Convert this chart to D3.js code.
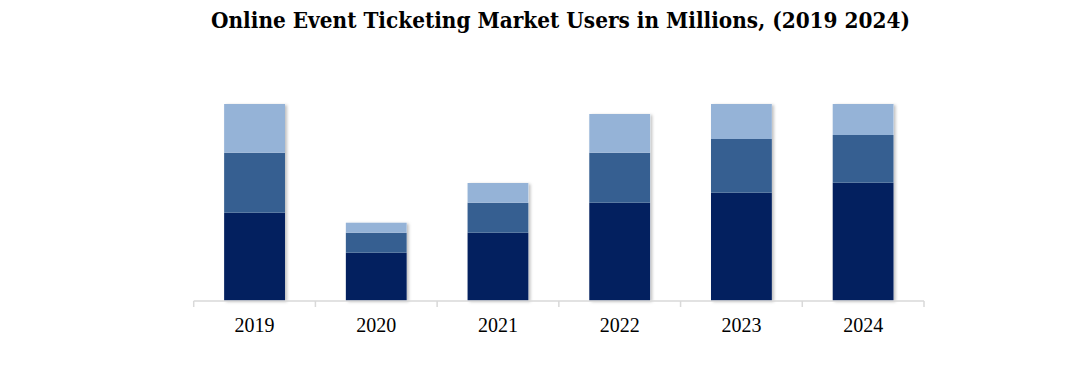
<!DOCTYPE html>
<html>
<head>
<meta charset="utf-8">
<script src="https://cdn.jsdelivr.net/npm/d3@7"></script>
<style>
  body { margin: 0; background: #fff; }
  svg { display: block; }
</style>
</head>
<body>
<div id="chart"></div>
<script>
// values (relative units)
const years = ['2019', '2020', '2021', '2022', '2023', '2024'];
const seriesNames = ['base', 'middle', 'top'];
const baseValues = [88, 48, 68, 98, 108, 118];
const middleValues = [60, 20, 30, 50, 53.7, 47.7];
const topValues = [48.7, 10, 19.7, 38.7, 35, 31];
const colors = ['#03205F', '#365F91', '#95B3D7'];
const title = 'Online Event Ticketing Market Users in Millions, (2019 2024)';

const width = 1089;
const height = 367;

const svg = d3.select('#chart')
    .append('svg')
    .attr('width', width)
    .attr('height', height);

const defs = svg.append('defs');
const shadow = defs.append('filter')
    .attr('id', 'shadow')
    .attr('x', '-10%').attr('y', '-10%')
    .attr('width', '130%').attr('height', '120%');
shadow.append('feDropShadow')
    .attr('dx', 2).attr('dy', 1)
    .attr('stdDeviation', 1.5)
    .attr('flood-color', '#000')
    .attr('flood-opacity', 0.25);

const rows = years.map((y, i) => ({
    year: y,
    base: baseValues[i],
    middle: middleValues[i],
    top: topValues[i]
}));

const stacked = d3.stack().keys(seriesNames)(rows);

const x = d3.scaleBand()
    .domain(years)
    .range([193.7, 924])
    .paddingInner(0.5)
    .paddingOuter(0.25);

const y = d3.scaleLinear()
    .domain([0, 200])
    .range([300.7, 100.7]);

svg.append('text')
    .attr('x', 560.5)
    .attr('y', 28)
    .attr('text-anchor', 'middle')
    .attr('font-family', 'DejaVu Serif Condensed, DejaVu Serif, serif')
    .attr('font-stretch', 'condensed')
    .attr('font-weight', 'bold')
    .attr('font-size', 22)
    .attr('textLength', 699)
    .attr('lengthAdjust', 'spacingAndGlyphs')
    .attr('fill', '#000')
    .text(title);

// shadow behind whole bars
svg.append('g')
    .selectAll('rect')
    .data(rows)
    .enter()
    .append('rect')
    .attr('x', d => x(d.year))
    .attr('width', x.bandwidth())
    .attr('y', d => y(d.base + d.middle + d.top))
    .attr('height', d => y(0) - y(d.base + d.middle + d.top))
    .attr('fill', '#fff')
    .attr('filter', 'url(#shadow)');

svg.append('g')
    .selectAll('g')
    .data(stacked)
    .enter()
    .append('g')
    .attr('fill', (d, i) => colors[i])
    .selectAll('rect')
    .data(d => d)
    .enter()
    .append('rect')
    .attr('x', d => x(d.data.year))
    .attr('width', x.bandwidth())
    .attr('y', d => y(d[1]))
    .attr('height', d => y(d[0]) - y(d[1]));

// axis line with tick marks between categories
const axis = svg.append('g');
axis.append('line')
    .attr('x1', 193.7).attr('x2', 924)
    .attr('y1', 301).attr('y2', 301)
    .attr('stroke', '#d9d9d9')
    .attr('stroke-width', 1.5);

const step = x.step();
const edges = d3.range(years.length + 1).map(i => 193.7 + i * step);
axis.selectAll('line.tick')
    .data(edges)
    .enter()
    .append('line')
    .attr('class', 'tick')
    .attr('x1', d => d).attr('x2', d => d)
    .attr('y1', 301).attr('y2', 307)
    .attr('stroke', '#d9d9d9')
    .attr('stroke-width', 1.5);

axis.selectAll('text')
    .data(years)
    .enter()
    .append('text')
    .attr('x', d => x(d) + x.bandwidth() / 2)
    .attr('y', 332)
    .attr('text-anchor', 'middle')
    .attr('font-family', 'Liberation Serif, serif')
    .attr('font-size', 20)
    .attr('fill', '#000')
    .text(d => d);
</script>
</body>
</html>
